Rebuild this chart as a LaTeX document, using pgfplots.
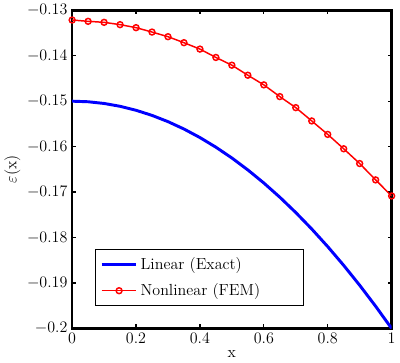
\documentclass[border=0pt]{standalone}
\usepackage{pgfplots}
\pgfplotsset{compat=1.18}
\begin{document}
\begin{tikzpicture}[font=\fontsize{12}{14}\selectfont]
\begin{axis}[
  scale only axis,
  width=239pt, height=238pt,
  xmin=0, xmax=1, ymin=-0.2, ymax=-0.13,
  xtick={0,0.2,0.4,0.6,0.8,1},
  xticklabels={0,0.2,0.4,0.6,0.8,1},
  ytick={-0.2,-0.19,-0.18,-0.17,-0.16,-0.15,-0.14,-0.13},
  yticklabels={$-0.2$,$-0.19$,$-0.18$,$-0.17$,$-0.16$,$-0.15$,$-0.14$,$-0.13$},
  tick align=inside,
  major tick length=3pt,
  every tick/.style={black, line width=1pt},
  axis line style={line width=2pt},
  xlabel={x},
  ylabel={$\varepsilon$(x)},
  xlabel style={yshift=2pt},
  ylabel style={yshift=-2pt},
  legend cell align=left,
  legend style={at={(0.07,0.07)}, anchor=south west, draw=black, line width=0.6pt,
    row sep=5pt, inner xsep=4pt, inner ysep=4pt},
  legend image code/.code={\draw[mark repeat=2,mark phase=2] plot coordinates {(0pt,0pt) (13pt,0pt) (26pt,0pt)};},
]
\addplot[blue, line width=2.2pt] coordinates {
(0,-0.15) (0.05,-0.150125) (0.1,-0.1505) (0.15,-0.151125) (0.2,-0.152)
(0.25,-0.153125) (0.3,-0.1545) (0.35,-0.156125) (0.4,-0.158) (0.45,-0.160125)
(0.5,-0.1625) (0.55,-0.165125) (0.6,-0.168) (0.65,-0.171125) (0.7,-0.1745)
(0.75,-0.178125) (0.8,-0.182) (0.85,-0.186125) (0.9,-0.1905) (0.95,-0.195125) (1,-0.2)
};
\addlegendentry{Linear (Exact)}
\addplot[red, line width=1.1pt, mark=o, mark size=2.2pt, mark options={line width=1.1pt}] coordinates {
(0,-0.13214) (0.05,-0.13243) (0.1,-0.13265) (0.15,-0.13316) (0.2,-0.13382)
(0.25,-0.13479) (0.3,-0.13581) (0.35,-0.13713) (0.4,-0.13854) (0.45,-0.14038)
(0.5,-0.14208) (0.55,-0.14429) (0.6,-0.14641) (0.65,-0.14899) (0.7,-0.15142)
(0.75,-0.15435) (0.8,-0.15731) (0.85,-0.16047) (0.9,-0.16372) (0.95,-0.16732) (1,-0.17085)
};
\addlegendentry{Nonlinear (FEM)\rule{26pt}{0pt}}
\end{axis}
\end{tikzpicture}
\end{document}
